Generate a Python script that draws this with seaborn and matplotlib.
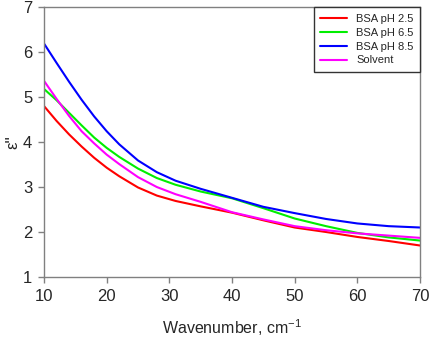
import matplotlib
matplotlib.use('Agg')
import matplotlib.pyplot as plt
import numpy as np
import pandas as pd
import seaborn as sns

sns.set_style("ticks")
plt.rcParams['font.family'] = ['Liberation Sans', 'DejaVu Sans']
plt.rcParams['mathtext.fontset'] = 'custom'
plt.rcParams['mathtext.rm'] = 'Liberation Sans'
plt.rcParams['mathtext.default'] = 'regular'

# wavenumber, cm-1
wavenumber = [10, 12, 14, 16, 18, 20, 22, 25, 28, 31, 35, 40, 45, 50, 55, 60, 65, 70]
# eps''
bsa_ph25 = [4.80, 4.47, 4.17, 3.90, 3.65, 3.43, 3.24, 2.99, 2.81, 2.69, 2.57, 2.43, 2.26, 2.10, 2.00, 1.89, 1.80, 1.70]
bsa_ph65 = [5.18, 4.93, 4.65, 4.37, 4.10, 3.87, 3.67, 3.41, 3.20, 3.05, 2.90, 2.75, 2.53, 2.30, 2.13, 1.98, 1.88, 1.81]
bsa_ph85 = [6.19, 5.76, 5.34, 4.94, 4.57, 4.24, 3.95, 3.59, 3.33, 3.14, 2.96, 2.76, 2.56, 2.42, 2.29, 2.19, 2.13, 2.10]
solvent = [5.36, 4.96, 4.58, 4.24, 3.97, 3.72, 3.51, 3.22, 3.00, 2.84, 2.67, 2.44, 2.28, 2.13, 2.04, 1.97, 1.92, 1.87]

names = ["BSA pH 2.5", "BSA pH 6.5", "BSA pH 8.5", "Solvent"]
colors = ["#ff0000", "#00ee00", "#0000ff", "#ff00ff"]

df = pd.concat([
    pd.DataFrame({'x': wavenumber, 'y': vals, 'sample': name})
    for name, vals in zip(names, [bsa_ph25, bsa_ph65, bsa_ph85, solvent])
])

fig = plt.figure(figsize=(4.29, 3.38), dpi=100)
ax = fig.add_axes([0.1026, 0.1805, 0.8765, 0.7985])

sns.lineplot(data=df, x='x', y='y', hue='sample', hue_order=names,
             palette=dict(zip(names, colors)), linewidth=1.5, ax=ax)

ax.set_xlim(10, 70)
ax.set_ylim(1, 7)
ax.set_xticks(np.arange(10, 71, 10))
ax.set_yticks(np.arange(1, 8, 1))
ax.tick_params(axis='both', labelsize=12, color='#808080', length=4.5, width=1, pad=4)
for s in ax.spines.values():
    s.set_color('#808080')
    s.set_linewidth(1)

ax.set_xlabel("Wavenumber, cm$^{-1}$", fontsize=11.5, labelpad=10)
ax.set_ylabel("ε''", fontsize=12, labelpad=2)

leg = ax.legend(loc='upper right', borderaxespad=0, fontsize=8, frameon=True,
                fancybox=False, handlelength=2.4, handletextpad=0.8,
                labelspacing=0.35, borderpad=0.6)
leg.set_title(None)
leg.get_frame().set_edgecolor('#333333')
leg.get_frame().set_linewidth(1)
leg.get_frame().set_alpha(1)

fig.savefig('out.png', dpi=100)
